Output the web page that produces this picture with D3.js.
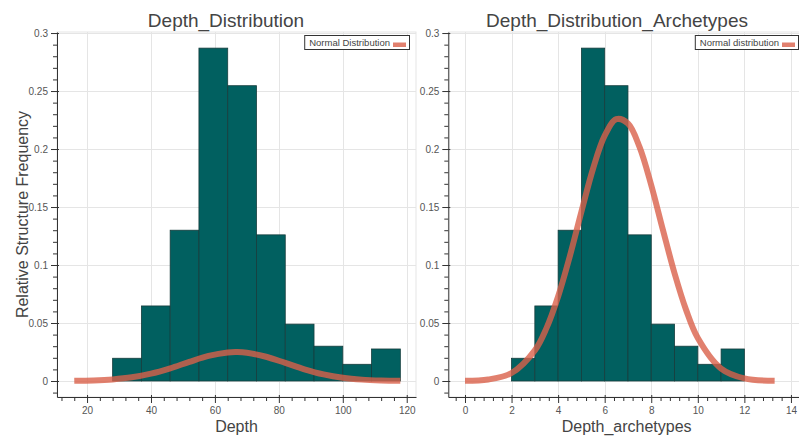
<!DOCTYPE html>
<html>
<head>
<meta charset="utf-8">
<script src="https://cdn.jsdelivr.net/npm/d3@7/dist/d3.min.js"></script>
<style>
  html, body { margin: 0; padding: 0; background: #fff; }
  svg { display: block; font-family: "Liberation Sans", Arial, Helvetica, sans-serif; }
</style>
</head>
<body>
<svg id="chart" width="799" height="437"></svg>
<script>
// ---------------- DATA ----------------
const freqTicks = [0, 0.05, 0.1, 0.15, 0.2, 0.25, 0.3];
const freqTickLabels = ["0", "0.05", "0.1", "0.15", "0.2", "0.25", "0.3"];
const depthTicks = [20, 40, 60, 80, 100, 120];
const archTicks = [0, 2, 4, 6, 8, 10, 12, 14];

// Depth histogram (bin edges + relative frequency)
const depthEdges = [28, 37, 46, 55, 64, 73, 82, 91, 100, 109, 118];
const depthFreq = [0.0196, 0.0647, 0.130, 0.287, 0.2546, 0.126, 0.049, 0.030, 0.0144, 0.0276];

// Depth_archetypes histogram
const archEdges = [2, 3, 4, 5, 6, 7, 8, 9, 10, 11, 12, 13, 14];
const archFreq = [0.0196, 0.0647, 0.130, 0.287, 0.2546, 0.126, 0.049, 0.030, 0.0144, 0.0276, 0, 0];

// Normal distribution curves
const depthNormalX = [16, 22, 28, 34, 40, 46, 52, 58, 64, 67, 70, 76, 82, 88, 94, 100, 106, 112, 118];
const depthNormalY = [0.00017, 0.00052, 0.00138, 0.00316, 0.00632, 0.01096, 0.0165, 0.0216, 0.0246, 0.0249,
                      0.0243, 0.0209, 0.0156, 0.0101, 0.0057, 0.00278, 0.00118, 0.00044, 0.00014];

const archNormalX = [0, 1, 2, 3, 3.5, 4, 4.5, 5, 5.5, 6, 6.5, 7, 7.5, 8, 8.5, 9, 9.5, 10, 11, 12, 13.3];
const archNormalY = [0.00018, 0.00131, 0.0069, 0.0264, 0.0456, 0.0729, 0.1074, 0.1460, 0.1830, 0.2115, 0.2257,
                     0.2220, 0.2016, 0.1688, 0.1304, 0.0929, 0.0611, 0.0370, 0.0107, 0.00223, 0.00018];

// ---------------- LAYOUT ----------------
const svg = d3.select("#chart");
const TOP = 32, BOTTOM = 397;
const y = d3.scaleLinear().domain([-0.0138, 0.3009]).range([BOTTOM, TOP]);

const BAR_FILL = "#016060", BAR_STROKE = "#173d3d";
const CURVE = "#d9604a";
const GRID = "#e5e5e5";
const AXIS = "#333";

const panels = [
  { left: 57, right: 416, xDomain: [10.6, 122.9], title: "Depth_Distribution", titleX: 226,
    xLabel: "Depth", ticks: depthTicks, minorStep: 4, edges: depthEdges, freq: depthFreq,
    cx: depthNormalX, cy: depthNormalY, legend: "Normal Distribution", yLabel: true },
  { left: 448.3, right: 805, xDomain: [-0.717, 14.604], title: "Depth_Distribution_Archetypes", titleX: 617,
    xLabel: "Depth_archetypes", ticks: archTicks, minorStep: 0.4, edges: archEdges, freq: archFreq,
    cx: archNormalX, cy: archNormalY, legend: "Normal distribution", yLabel: false }
];

panels.forEach(p => {
  const g = svg.append("g");
  const x = d3.scaleLinear().domain(p.xDomain).range([p.left, p.right]);

  // frame outline
  g.append("rect").attr("x", p.left).attr("y", TOP)
    .attr("width", p.right - p.left).attr("height", BOTTOM - TOP)
    .attr("fill", "none").attr("stroke", GRID);

  // grid
  g.selectAll(".vg").data(p.ticks).join("line")
    .attr("x1", d => Math.round(x(d)) + 0.5).attr("x2", d => Math.round(x(d)) + 0.5)
    .attr("y1", TOP).attr("y2", BOTTOM).attr("stroke", GRID);
  g.selectAll(".hg").data(freqTicks).join("line")
    .attr("x1", p.left).attr("x2", p.right)
    .attr("y1", d => Math.round(y(d)) + 0.5).attr("y2", d => Math.round(y(d)) + 0.5)
    .attr("stroke", GRID);

  // bars
  const bins = p.freq.map((v, i) => ({ x0: p.edges[i], x1: p.edges[i + 1], v }));
  g.selectAll(".bar").data(bins).join("rect")
    .attr("x", d => x(d.x0)).attr("width", d => x(d.x1) - x(d.x0))
    .attr("y", d => y(d.v)).attr("height", d => y(0) - y(d.v))
    .attr("fill", BAR_FILL).attr("stroke", BAR_STROKE).attr("stroke-width", 0.8);

  // normal curve
  const pts = p.cx.map((v, i) => [v, p.cy[i]]);
  g.append("path").datum(pts)
    .attr("d", d3.line().x(d => x(d[0])).y(d => y(d[1])).curve(d3.curveCatmullRom.alpha(0.5)))
    .attr("fill", "none").attr("stroke", CURVE).attr("stroke-opacity", 0.8)
    .attr("stroke-width", 6);

  // axes
  const yAxis = g.append("g").attr("transform", `translate(${p.left},0)`)
    .call(d3.axisLeft(y).tickValues(freqTicks).tickFormat((d, i) => freqTickLabels[i])
      .tickSize(6).tickSizeOuter(0).tickPadding(3));
  const minorY = d3.range(-1, 31).map(k => k / 100).filter(v => Math.round(v * 100) % 5 !== 0);
  const yMinor = g.append("g").attr("transform", `translate(${p.left},0)`)
    .call(d3.axisLeft(y).tickValues(minorY).tickFormat("").tickSize(4).tickSizeOuter(0));
  yMinor.select(".domain").remove();
  yAxis.selectAll(".tick line").attr("x1", 2);

  const xAxis = g.append("g").attr("transform", `translate(0,${BOTTOM})`)
    .call(d3.axisBottom(x).tickValues(p.ticks).tickFormat(d3.format("d"))
      .tickSize(6).tickSizeOuter(0).tickPadding(4));
  xAxis.selectAll(".tick line").attr("y1", -2);
  const stepsLo = Math.ceil(p.xDomain[0] / p.minorStep), stepsHi = Math.floor(p.xDomain[1] / p.minorStep);
  const minorX = d3.range(stepsLo, stepsHi + 1).map(k => +(k * p.minorStep).toFixed(4))
    .filter(v => !p.ticks.some(t => Math.abs(t - v) < 1e-6));
  const xMinor = g.append("g").attr("transform", `translate(0,${BOTTOM})`)
    .call(d3.axisBottom(x).tickValues(minorX).tickFormat("").tickSize(4).tickSizeOuter(0));
  xMinor.select(".domain").remove();

  [yAxis, yMinor, xAxis, xMinor].forEach(a => {
    a.selectAll("path, line").attr("stroke", AXIS);
    a.selectAll("text").attr("fill", "#555").attr("font-size", 10)
      .attr("font-family", "'Liberation Sans', Arial, sans-serif");
  });

  // title
  g.append("text").attr("x", p.titleX).attr("y", 26.5).attr("text-anchor", "middle")
    .attr("font-size", 19).attr("fill", "#444").text(p.title);

  // x label
  g.append("text").attr("x", (p.left + Math.min(p.right, 807.8)) / 2).attr("y", 432)
    .attr("text-anchor", "middle").attr("font-size", 16).attr("fill", "#444").text(p.xLabel);

  // y label
  if (p.yLabel) {
    g.append("text").attr("transform", `translate(27.5,${(TOP + BOTTOM) / 2}) rotate(-90)`)
      .attr("text-anchor", "middle").attr("font-size", 16).attr("fill", "#444")
      .text("Relative Structure Frequency");
  }

  // legend
  const boxRight = p.right - 7;
  const swR = boxRight - 3, swL = swR - 13;
  const lg = g.append("g");
  const box = lg.append("rect");
  const txt = lg.append("text").attr("x", swL - 3).attr("y", 46).attr("text-anchor", "end")
    .attr("font-size", 9.5).attr("fill", "#444").text(p.legend);
  const tw = txt.node().getComputedTextLength();
  const boxLeft = swL - 3 - tw - 5;
  box.attr("x", boxLeft + 0.5).attr("y", 35.5).attr("width", boxRight - boxLeft).attr("height", 14)
    .attr("fill", "#fff").attr("stroke", "#333").attr("stroke-width", 1);
  lg.append("rect").attr("x", swL).attr("y", 42.5).attr("width", swR - swL).attr("height", 4.5)
    .attr("fill", CURVE).attr("fill-opacity", 0.8);
});
</script>
</body>
</html>
